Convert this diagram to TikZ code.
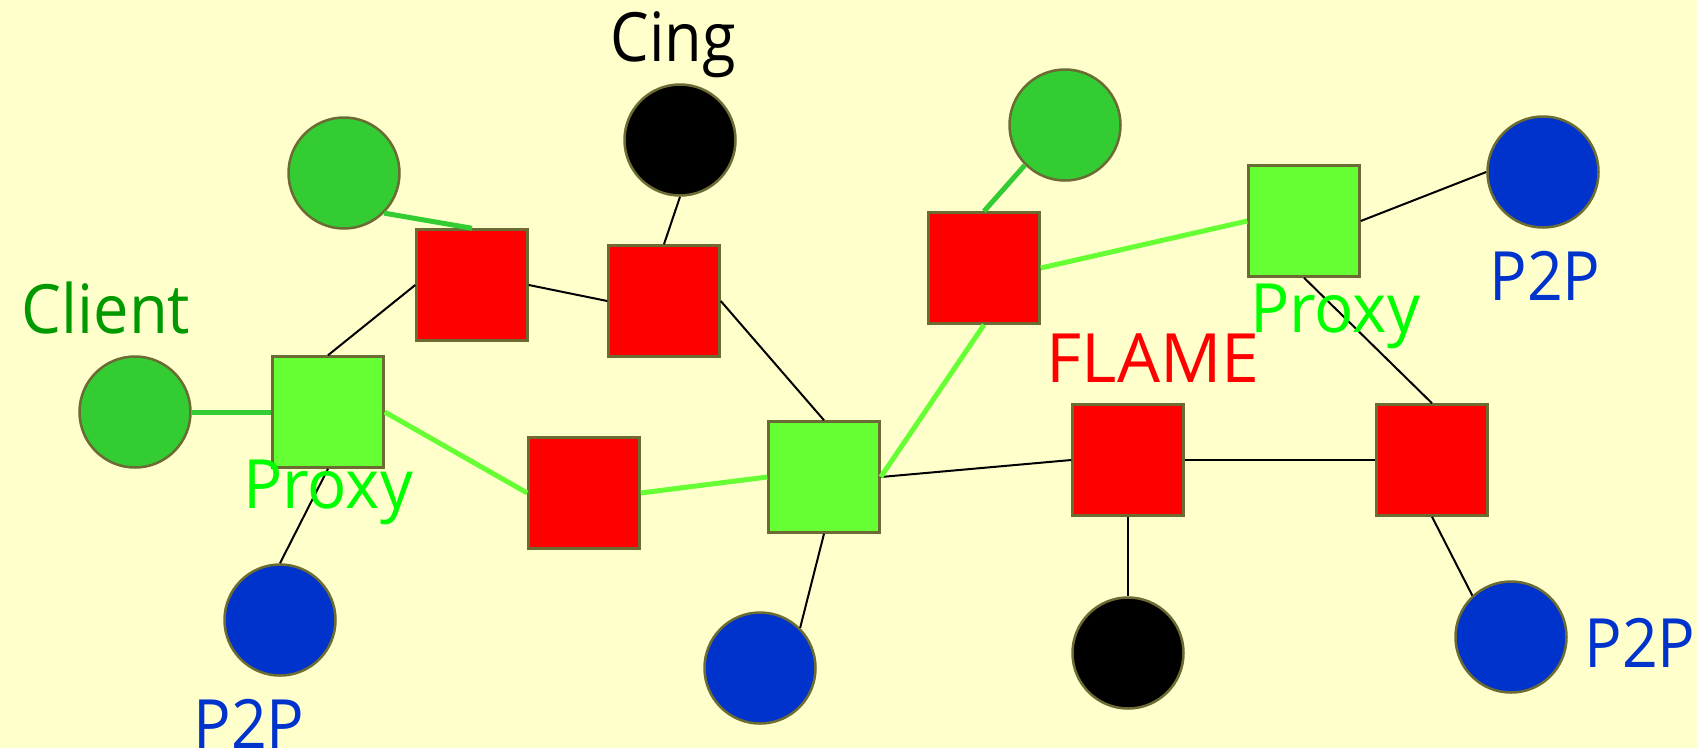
\documentclass[tikz,border=0pt]{standalone}
\usepackage{fontspec}
\usepackage{graphicx}
\setmainfont{Open Sans}
\definecolor{bg}{HTML}{FFFFCC}
\definecolor{bord}{HTML}{6B6B33}
\definecolor{flame}{HTML}{FF0000}
\definecolor{proxyg}{HTML}{66FF33}
\definecolor{clientg}{HTML}{33CC33}
\definecolor{ptwop}{HTML}{0033CC}
\definecolor{clienttxt}{HTML}{009900}
\definecolor{proxytxt}{HTML}{00FF00}
\newcommand{\narrowtxt}[2]{\scalebox{#1}[1]{#2}}
\begin{document}
\begin{tikzpicture}[x=1pt,y=-1pt,
  node/.style={draw=bord, line width=2.5pt, minimum size=111pt, inner sep=0pt},
  sqr/.style={node, rectangle, fill=flame},
  sqp/.style={node, rectangle, fill=proxyg},
  cgreen/.style={node, circle, fill=clientg},
  cblue/.style={node, circle, fill=ptwop},
  cblack/.style={node, circle, fill=black},
  thinl/.style={line width=2pt, black},
  clientl/.style={line width=5pt, clientg},
  proxyl/.style={line width=5pt, proxyg},
  lbl/.style={anchor=base, inner sep=0pt, font=\fontsize{68}{70}\selectfont}]
\fill[bg] (0,0) rectangle (1697,748);
\useasboundingbox (0,0) rectangle (1697,748);
% circles
\node[cgreen] (c1) at (344,173) {};
\node[cblack] (cing) at (680,140) {};
\node[cgreen] (gtr) at (1065,125) {};
\node[cblue] (btr) at (1543,172) {};
\node[cgreen] (cl) at (135,412) {};
\node[cblue] (bbl) at (280,620) {};
\node[cblue] (bbm) at (760,668) {};
\node[cblack] (bblk) at (1128,653) {};
\node[cblue] (bbr) at (1511,637) {};
% squares
\node[sqr] (s1) at (472,285) {};
\node[sqr] (s2) at (664,301) {};
\node[sqr] (s3) at (984,268) {};
\node[sqr] (s4) at (584,493) {};
\node[sqr] (s5) at (1128,460) {};
\node[sqr] (s6) at (1432,460) {};
\node[sqp] (pL) at (328,412) {};
\node[sqp] (pM) at (824,477) {};
\node[sqp] (pR) at (1304,221) {};
% connectors
\draw[clientl] (c1.-45) -- (s1.north);
\draw[clientl] (cl.east) -- (pL.west);
\draw[clientl] (gtr.225) -- (s3.north);
\draw[thinl] (s1.west) -- (pL.north);
\draw[thinl] (s1.east) -- (s2.west);
\draw[thinl] (cing.south) -- (s2.north);
\draw[thinl] (s2.east) -- (pM.north);
\draw[thinl] (pL.south) -- (bbl.north);
\draw[thinl] (pM.south) -- (bbm.45);
\draw[thinl] (pM.east) -- (s5.west);
\draw[thinl] (s5.east) -- (s6.west);
\draw[thinl] (s5.south) -- (bblk.north);
\draw[thinl] (s6.south) -- (bbr.133);
\draw[thinl] (pR.south) -- (s6.north);
\draw[thinl] (pR.east) -- (btr.west);
\draw[proxyl] (pL.east) -- (s4.west);
\draw[proxyl] (s4.east) -- (pM.west);
\draw[proxyl] (pM.east) -- (s3.south);
\draw[proxyl] (s3.east) -- (pR.west);
% labels
\node[lbl, text=black] (tcing) at (673,61) {\narrowtxt{0.9}{Cing}};
\node[lbl, text=clienttxt] (tclient) at (106,333) {\narrowtxt{0.93}{Client}};
\node[lbl, text=proxytxt] (tpl) at (328,508) {\narrowtxt{0.96}{Proxy}};
\node[lbl, text=proxytxt] (tpr) at (1335,332) {\narrowtxt{0.96}{Proxy}};
\node[lbl, text=flame] (tflame) at (1153,382) {FLAME};
\node[lbl, text=ptwop] (tp1) at (1545,300) {\narrowtxt{0.92}{P2P}};
\node[lbl, text=ptwop] (tp2) at (249,748) {\narrowtxt{0.92}{P2P}};
\node[lbl, text=ptwop] (tp3) at (1640,667) {\narrowtxt{0.92}{P2P}};
\end{tikzpicture}
\end{document}
